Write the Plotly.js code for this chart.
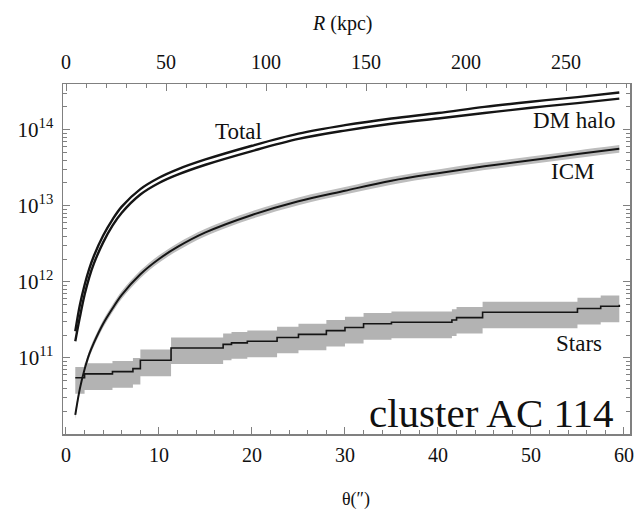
<!DOCTYPE html>
<html><head><meta charset="utf-8">
<script src="https://cdn.plot.ly/plotly-3.0.1.min.js"></script>
<style>html,body{margin:0;padding:0;background:#fff}</style>
</head><body><div id="chart" style="width:636px;height:509px"></div>
<script>
// angular radius (arcsec)
const theta = [1,1.5,2,2.5,3,4,5,6,8,10,12,15,20,25,30,35,40,45,50,55,59.5];
const massTotal = [2.24e11,5.0e11,9.1e11,1.48e12,2.19e12,4.07e12,6.6e12,9.77e12,1.66e13,2.34e13,3.02e13,4.07e13,6.17e13,8.9e13,1.15e14,1.41e14,1.66e14,2.0e14,2.34e14,2.69e14,3.09e14];
const massDM = [1.66e11,3.47e11,6.76e11,1.15e12,1.74e12,3.31e12,5.5e12,8.13e12,1.41e13,2.0e13,2.57e13,3.47e13,5.25e13,7.59e13,9.77e13,1.20e14,1.41e14,1.66e14,1.95e14,2.24e14,2.57e14];
const massICM = [1.78e10,3.98e10,7.08e10,1.12e11,1.58e11,2.82e11,4.47e11,6.76e11,1.26e12,2.0e12,2.88e12,4.47e12,7.59e12,1.15e13,1.58e13,2.14e13,2.69e13,3.31e13,3.98e13,4.79e13,5.62e13];
const massICMHigh = [2.0e10,4.46e10,7.93e10,1.25e11,1.77e11,3.16e11,5.0e11,7.57e11,1.41e12,2.24e12,3.23e12,5.0e12,8.5e12,1.29e13,1.77e13,2.4e13,3.01e13,3.71e13,4.46e13,5.36e13,6.3e13];
const massICMLow = [1.58e10,3.54e10,6.3e10,9.97e10,1.41e11,2.51e11,3.98e11,6.02e11,1.12e12,1.78e12,2.56e12,3.98e12,6.76e12,1.02e13,1.41e13,1.9e13,2.39e13,2.95e13,3.54e13,4.26e13,5.0e13];
// stellar mass (step profile)
const thetaStars = [1.0,2.0,5.0,7.2,8.0,11.3,16.9,17.8,19.5,22.7,25,28,30,32,35,41.5,42,44.8,55,57.5,59.5];
const massStars = [5.5e10,6.17e10,6.6e10,7.24e10,9.33e10,1.35e11,1.51e11,1.58e11,1.66e11,1.86e11,2.04e11,2.29e11,2.51e11,2.82e11,2.95e11,3.16e11,3.39e11,3.98e11,4.47e11,4.79e11,5.01e11];
const massStarsHigh = [7.6e10,8.5e10,9.1e10,1.0e11,1.29e11,1.86e11,2.09e11,2.19e11,2.29e11,2.57e11,2.82e11,3.16e11,3.47e11,3.89e11,4.07e11,4.37e11,4.68e11,5.5e11,6.17e11,6.6e11,6.92e11];
const massStarsLow = [3.39e10,3.8e10,4.07e10,4.47e10,5.75e10,8.3e10,9.33e10,9.77e10,1.02e11,1.15e11,1.26e11,1.41e11,1.55e11,1.74e11,1.82e11,1.95e11,2.09e11,2.45e11,2.75e11,2.95e11,3.09e11];

const yTickVals = [1e11,1e12,1e13,1e14];
const yTickText = ['10<sup>11</sup>','10<sup>12</sup>','10<sup>13</sup>','10<sup>14</sup>'];
const yMinorMantissa = [2,3,4,5,6,7,8,9];
const yMinorDecades = [1e10,1e11,1e12,1e13,1e14];
const xTickVals = [0,10,20,30,40,50,60];
const rTickVals = [0,50,100,150,200,250];
const curveLabels = ['Total','DM halo','ICM','Stars'];
const clusterName = 'cluster AC 114';
const xTitle = 'θ(″)';
const rTitle = '<i>R</i> (kpc)';

const yMinorVals = [];
yMinorDecades.forEach(d => yMinorMantissa.forEach(m => yMinorVals.push(m * d)));

const serif = 'Liberation Serif';
const band = '#b3b3b3';
const ink = '#151515';
const frame = '#808080';

const traces = [
  {x: thetaStars, y: massStarsLow, mode:'lines', line:{width:0, shape:'hv'}, hoverinfo:'skip', showlegend:false},
  {x: thetaStars, y: massStarsHigh, mode:'lines', line:{width:0, shape:'hv'}, fill:'tonexty', fillcolor: band, hoverinfo:'skip', showlegend:false},
  {x: theta, y: massICMLow, mode:'lines', line:{width:0, shape:'spline'}, hoverinfo:'skip', showlegend:false},
  {x: theta, y: massICMHigh, mode:'lines', line:{width:0, shape:'spline'}, fill:'tonexty', fillcolor: '#bdbdbd', hoverinfo:'skip', showlegend:false},
  {x: thetaStars, y: massStars, mode:'lines', line:{color: ink, width:1.6, shape:'hv'}, name:'Stars', showlegend:false},
  {x: theta, y: massICM, mode:'lines', line:{color: ink, width:2, shape:'spline'}, name:'ICM', showlegend:false},
  {x: theta, y: massDM, mode:'lines', line:{color: ink, width:2.4, shape:'spline'}, name:'DM halo', showlegend:false},
  {x: theta, y: massTotal, mode:'lines', line:{color: ink, width:2.4, shape:'spline'}, name:'Total', showlegend:false},
  // empty companion subplot that carries the R (kpc) axis on top
  {x: [0], y: [0], xaxis:'x2', yaxis:'y2', mode:'markers', marker:{opacity:0}, hoverinfo:'skip', showlegend:false}
];

function ann(text, x, y, size, xanchor) {
  return {text: text, x: x, y: y, xref:'paper', yref:'paper', showarrow:false,
          xanchor: xanchor || 'center', yanchor:'middle', font:{family: serif, size: size, color:'#111'}};
}
const yRange = [10, Math.log10(4e14)];

const layout = {
  width: 636, height: 509,
  margin: {l: 63, r: 6, t: 84, b: 75},
  plot_bgcolor:'rgba(0,0,0,0)',
  showlegend:false,
  xaxis: {
    domain:[0,1], anchor:'y',
    range: [-0.32, 60.65], tickmode:'array', tickvals: xTickVals, ticks:'inside', ticklen:7, tickcolor: frame, tickwidth:1,
    minor: {dtick: 2, ticks:'inside', ticklen:4, tickcolor: frame, showgrid:false},
    showline:true, linecolor: frame, linewidth:1.5, mirror:true, showgrid:false, zeroline:false,
    tickfont:{family: serif, size:20, color:'#111'}, ticklabelstandoff: 2
  },
  yaxis: {
    domain:[0,1], anchor:'x',
    type:'log', range: yRange, tickmode:'array', tickvals: yTickVals, ticktext: yTickText,
    ticks:'inside', ticklen:7, tickcolor: frame,
    minor: {tickmode:'array', tickvals: yMinorVals, ticks:'inside', ticklen:4, tickcolor: frame, showgrid:false},
    showline:true, linecolor: frame, linewidth:1.5, mirror:'ticks', showgrid:false, zeroline:false,
    tickfont:{family: serif, size:21, color:'#111'}, ticklabelstandoff: 4
  },
  xaxis2: {
    domain:[0,1], anchor:'y2', side:'top', range:[-1.5, 282], tickmode:'array', tickvals: rTickVals,
    ticks:'inside', ticklen:7, tickcolor: frame,
    minor: {dtick: 10, ticks:'inside', ticklen:4, tickcolor: frame, showgrid:false},
    showline:false, showgrid:false, zeroline:false,
    tickfont:{family: serif, size:20, color:'#111'}, ticklabelstandoff: 10
  },
  yaxis2: {
    domain:[0,1], anchor:'x2', range:[0,1], visible:false, showgrid:false, zeroline:false
  },
  annotations: [
    ann(curveLabels[0], 0.309, 0.863, 23),
    ann(curveLabels[1], 0.901, 0.897, 23),
    ann(curveLabels[2], 0.898, 0.749, 23),
    ann(curveLabels[3], 0.910, 0.260, 23),
    ann(clusterName, 0.974, 0.06, 41, 'right'),
    ann(xTitle, (356 - 63) / 567, -(499 - 434) / 350, 18),
    ann(rTitle, (342 - 63) / 567, 1 + (84 - 24) / 350, 20)
  ]
};

Plotly.newPlot('chart', traces, layout, {displayModeBar:false, staticPlot:true});
</script></body></html>
